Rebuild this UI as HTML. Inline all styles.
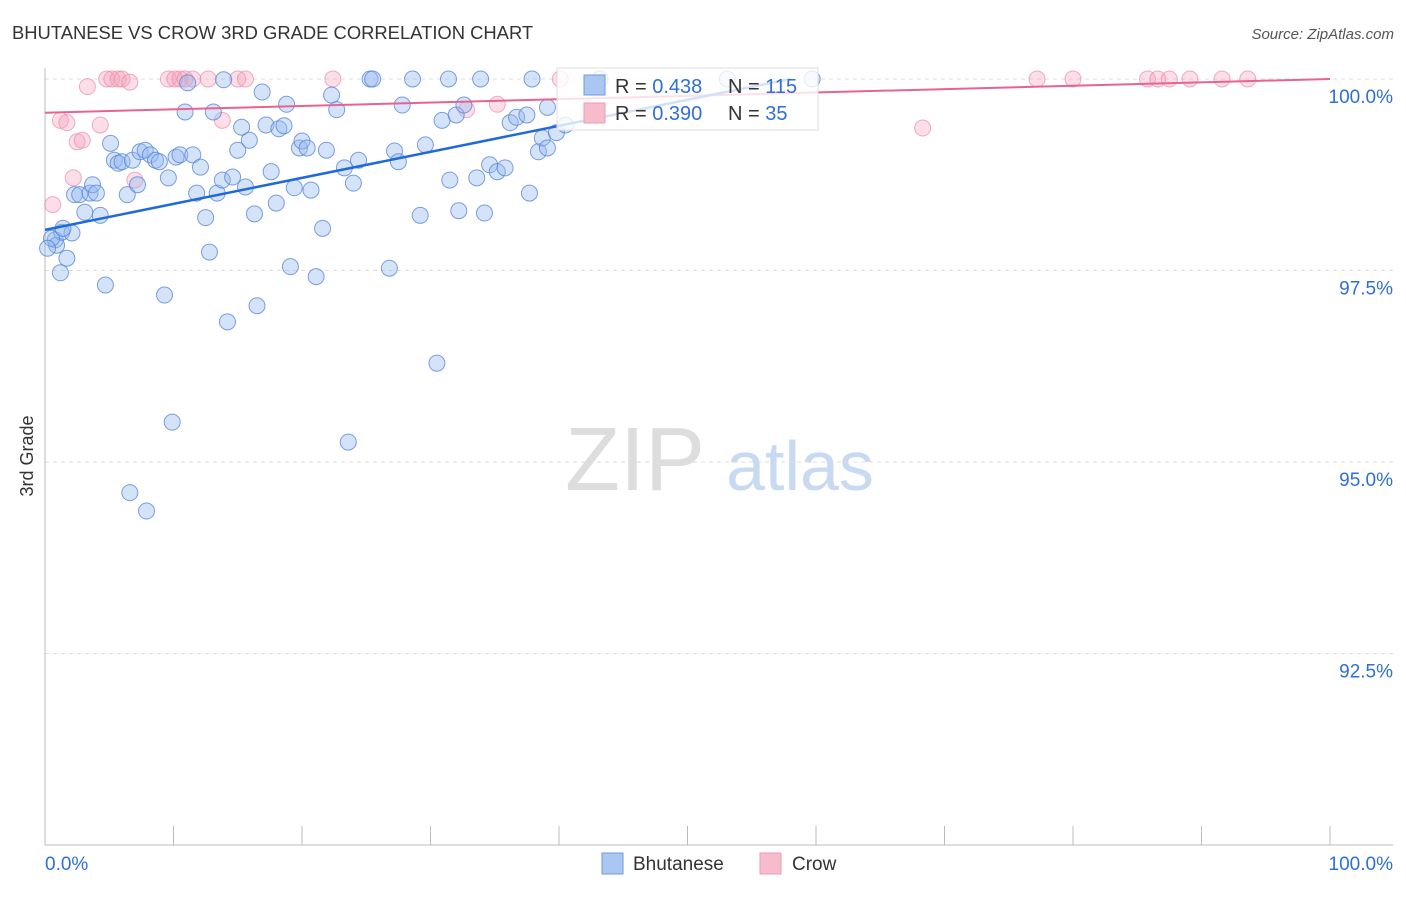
<!DOCTYPE html>
<html><head><meta charset="utf-8"><style>
body{margin:0;background:#fff;font-family:"Liberation Sans",sans-serif;}
svg text{font-family:"Liberation Sans",sans-serif;}
</style></head><body>
<svg id="chart" width="1406" height="892">
<text x="12" y="39" font-size="18.4" fill="#333">BHUTANESE VS CROW 3RD GRADE CORRELATION CHART</text>
<text x="1394" y="39" font-size="15" fill="#555" font-style="italic" text-anchor="end">Source: ZipAtlas.com</text>
<text x="33" y="456" font-size="18" fill="#333" transform="rotate(-90 33 456)" text-anchor="middle">3rd Grade</text>
<g><text x="635" y="490" font-size="90" fill="#ddd" text-anchor="middle" font-family="Liberation Serif">ZIP</text><text x="800" y="490" font-size="70" fill="#c8daf2" text-anchor="middle">atlas</text></g>
<g id="grid"></g><g id="axes"></g><g id="pts"></g><g id="lines"></g>
<g>
<rect x="557" y="68" width="261" height="62" fill="rgba(255,255,255,0.8)" stroke="#ddd"/>
<rect x="584" y="75" width="21" height="20" fill="#a9c7f0" stroke="#6f9be0"/>
<rect x="584" y="103" width="21" height="20" fill="#f7bccc" stroke="#ef9ab2"/>
<text x="615" y="93" font-size="20" fill="#333">R = <tspan fill="#2f6fd6">0.438</tspan></text>
<text x="728" y="93" font-size="20" fill="#333">N = <tspan fill="#2f6fd6">115</tspan></text>
<text x="615" y="120" font-size="20" fill="#333">R = <tspan fill="#2f6fd6">0.390</tspan></text>
<text x="728" y="120" font-size="20" fill="#333">N = <tspan fill="#2f6fd6"> 35</tspan></text>
</g>
<g>
<rect x="602" y="853" width="21" height="21" fill="#a9c7f0" stroke="#6f9be0"/>
<text x="633" y="870" font-size="19" fill="#333">Bhutanese</text>
<rect x="760" y="853" width="21" height="21" fill="#f7bccc" stroke="#ef9ab2"/>
<text x="792" y="870" font-size="19" fill="#333">Crow</text>
</g>
</svg>
<script>
const yTicks=[100,97.5,95,92.5];
const yTickLabels=["100.0%","97.5%","95.0%","92.5%"];
const xTickLabels=["0.0%","100.0%"];
const blueX=[0.8,0.9,1.2,1.3,1.7,2.1,2.3,2.7,3.1,3.5,3.7,4.0,4.3,4.7,5.1,5.4,5.7,6.0,6.4,6.8,7.2,7.4,7.8,8.2,8.6,8.9,9.3,9.6,9.9,10.2,10.5,10.9,11.1,11.5,11.8,12.1,12.5,12.8,13.1,13.4,13.8,13.9,14.2,14.6,15.0,15.3,15.6,15.9,16.3,16.5,16.9,17.2,17.6,18.0,18.2,18.6,18.8,19.1,19.4,19.8,20.0,20.4,20.7,21.1,21.6,21.9,22.3,22.7,23.3,23.6,24.0,24.4,25.3,25.5,26.8,27.2,27.5,27.8,28.6,29.2,29.6,30.5,30.9,31.4,31.5,32.0,32.2,32.6,33.6,33.9,34.2,34.6,35.2,35.8,36.2,36.7,37.5,37.7,37.9,38.4,38.7,39.1,39.1,39.8,40.5,6.6,7.9,43.2,53.1,59.7,0.5,0.2,1.4];
const blueY=[97.90,97.83,97.47,98.00,97.66,97.99,98.49,98.49,98.26,98.51,98.62,98.51,98.22,97.31,99.16,98.94,98.90,98.92,98.49,98.94,98.62,99.05,99.07,99.01,98.94,98.92,97.18,98.71,95.52,98.98,99.01,99.57,99.95,99.01,98.51,98.85,98.19,97.74,99.57,98.51,98.68,99.99,96.83,98.72,99.07,99.37,98.59,99.20,98.24,97.04,99.83,99.40,98.79,98.38,99.35,99.39,99.67,97.55,98.58,99.10,99.19,99.10,98.55,97.42,98.05,99.07,99.79,99.60,98.84,95.26,98.64,98.94,100,100,97.53,99.06,98.92,99.66,100,98.22,99.14,96.29,99.46,100,98.68,99.53,98.28,99.66,98.71,100,98.25,98.88,98.79,98.84,99.43,99.50,99.53,98.51,100,99.05,99.23,99.10,99.63,99.30,99.40,94.60,94.36,100,100,100,97.92,97.79,98.05];
const pinkX=[0.6,1.2,1.7,2.2,2.5,2.9,3.3,4.3,4.8,5.2,5.7,6.0,6.6,7.0,9.6,10.1,10.5,10.9,11.5,12.7,13.8,15.0,15.6,22.4,32.8,35.2,40.1,68.3,77.2,80.0,85.8,86.6,87.5,89.1,91.6,93.6];
const pinkY=[98.36,99.46,99.43,98.71,99.18,99.20,99.90,99.40,100,100,100,100,99.96,98.68,100,100,100,100,100,100,99.46,100,100,100,99.60,99.67,100,99.36,100,100,100,100,100,100,100,100];
const blueLine=[[0,98.03],[58,100]];
const pinkLine=[[0,99.56],[100,100]];
const NS="http://www.w3.org/2000/svg";
const X=v=>45+v*12.85, Y=v=>79+(100-v)*76.6;
function mk(t,a,p){const e=document.createElementNS(NS,t);for(const k in a)e.setAttribute(k,a[k]);p.appendChild(e);return e;}
const grid=document.getElementById('grid'),axes=document.getElementById('axes'),pts=document.getElementById('pts'),lines=document.getElementById('lines');
yTicks.forEach((t,i)=>{
 const l=mk('line',{x1:45,x2:1393,y1:Y(t),y2:Y(t),stroke:'#ddd','stroke-dasharray':'4,4'},grid);
 
 
 const tx=mk('text',{x:1393,y:Y(t)+24,'font-size':19,fill:'#2f6fd6','text-anchor':'end'},axes);
 tx.textContent=yTickLabels[i];
 
 
});
const al=mk('line',{x1:45,x2:1393,y1:845,y2:845,stroke:'#bbb'},axes);


const vl=mk('line',{x1:45,x2:45,y1:68,y2:845,stroke:'#bbb'},axes);


for(let i=0;i<=10;i++){
 const t=mk('line',{x1:X(i*10),x2:X(i*10),y1:826,y2:845,stroke:'#bbb'},axes);
 
 
}
[[0,'start',45],[100,'end',1393]].forEach((d,i)=>{
 const t=mk('text',{x:d[2],y:870,'font-size':19,fill:'#2f6fd6','text-anchor':d[1]},axes);
 t.textContent=xTickLabels[i];
 
 
});
pinkX.forEach((x,i)=>{
 const c=mk('circle',{cx:X(x),cy:Y(pinkY[i]),r:8,fill:'rgba(244,160,185,0.35)',stroke:'rgba(235,140,170,0.7)'},pts);
 
 
});
blueX.forEach((x,i)=>{
 const c=mk('circle',{cx:X(x),cy:Y(blueY[i]),r:8,fill:'rgba(150,185,240,0.4)',stroke:'rgba(80,130,215,0.75)'},pts);
 
 
});
const pl=mk('line',{x1:X(pinkLine[0][0]),y1:Y(pinkLine[0][1]),x2:X(pinkLine[1][0]),y2:Y(pinkLine[1][1]),stroke:'#e8648f','stroke-width':2},lines);


const bl=mk('line',{x1:X(blueLine[0][0]),y1:Y(blueLine[0][1]),x2:X(blueLine[1][0]),y2:Y(blueLine[1][1]),stroke:'#1f6ad8','stroke-width':2.5},lines);


</script>
</body></html>
